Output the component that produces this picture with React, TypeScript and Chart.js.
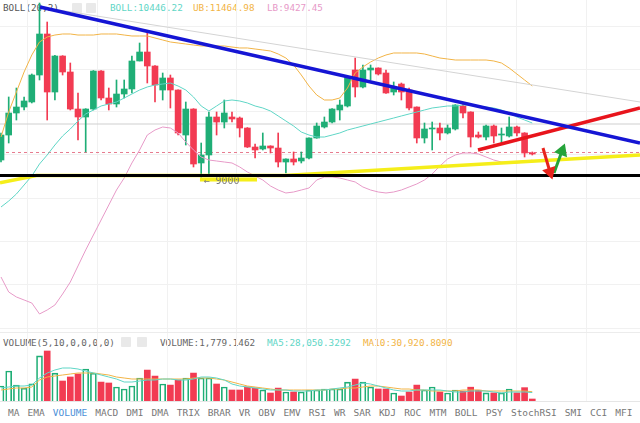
import React, { useEffect, useRef } from "react";
import { Chart, registerables } from "chart.js";

Chart.register(...registerables);

// ---------- candles (price) ----------
const OPEN = [9427, 10115, 10721, 10886, 11024, 11767, 12896, 11299, 12290, 11850, 10831, 10611, 10831, 11877, 11134, 10969, 11244, 11382, 12153, 12400, 12015, 11354, 11685, 11354, 10115, 10831, 9345, 9565, 10611, 10473, 10611, 10583, 10308, 9785, 9730, 9813, 9757, 9372, 9455, 9400, 9482, 10033, 10336, 10473, 10804, 10914, 11905, 11437, 11905, 11960, 11822, 11299, 11519, 11354, 10886, 10033, 10281, 10308, 10171, 10281, 10914, 10749, 10115, 10060, 10363, 10115, 10088, 10336, 10171, 9620];
const HIGH = [10171, 11162, 11409, 11162, 11795, 13749, 13226, 12310, 12300, 12098, 11272, 10840, 11890, 11890, 11409, 11630, 11630, 12290, 12648, 12923, 12030, 11822, 11767, 11360, 11024, 10840, 9895, 10749, 10749, 11079, 10749, 10611, 10320, 9868, 10171, 9820, 10171, 9460, 9648, 9648, 10040, 10446, 10611, 10840, 11079, 11720, 12235, 12043, 12043, 11965, 11905, 11575, 11547, 11409, 10890, 10446, 10473, 10446, 10391, 10950, 10969, 10755, 10198, 10391, 10391, 10308, 10611, 10363, 10180, 9648];
const LOW = [9372, 9895, 10528, 10804, 10997, 11630, 10528, 11079, 11767, 10804, 9978, 9648, 10804, 11079, 10804, 10886, 11134, 11272, 12153, 11547, 11024, 11079, 10859, 10115, 9840, 9235, 8959, 9014, 10115, 10308, 10473, 10060, 9770, 9482, 9703, 9620, 9235, 9069, 9290, 9345, 9455, 10025, 10308, 10446, 10528, 10886, 11162, 11409, 11630, 11767, 11260, 11217, 11079, 10804, 9895, 9895, 9703, 9978, 10143, 10253, 10583, 9785, 10033, 9978, 9895, 9895, 10060, 10088, 9510, 9565];
const CLOSE = [10115, 10721, 10886, 11052, 11767, 12896, 11299, 12290, 11850, 10831, 10611, 10831, 11877, 11134, 10969, 11244, 11382, 12153, 12400, 12015, 11492, 11685, 11354, 10171, 10831, 9317, 9565, 10611, 10473, 10721, 10556, 10308, 9785, 9703, 9813, 9757, 9372, 9455, 9372, 9482, 10033, 10363, 10473, 10831, 10941, 11712, 11437, 11905, 11960, 11795, 11272, 11437, 11299, 10859, 10033, 10281, 10308, 10171, 10308, 10941, 10721, 10060, 10060, 10363, 10088, 10143, 10336, 10171, 9620, 9593];

// ---------- Bollinger bands (20,2) ----------
const BOLL_MID = [8133, 8298, 8491, 8739, 8987, 9317, 9565, 9840, 10088, 10281, 10501, 10694, 10804, 10914, 10969, 11024, 11134, 11244, 11354, 11437, 11492, 11519, 11547, 11464, 11354, 11162, 10914, 10776, 10914, 11052, 11079, 11052, 10997, 10914, 10859, 10776, 10639, 10501, 10363, 10198, 10115, 10060, 10060, 10115, 10171, 10253, 10308, 10363, 10418, 10473, 10528, 10583, 10639, 10694, 10749, 10804, 10859, 10886, 10914, 10914, 10941, 10941, 10914, 10886, 10859, 10804, 10721, 10611, 10528, 10446.22];
const BOLL_UB = [10060, 10749, 11299, 11850, 12318, 12676, 12813, 12868, 12896, 12896, 12868, 12868, 12868, 12896, 12896, 12896, 12868, 12841, 12841, 12841, 12786, 12731, 12676, 12648, 12621, 12593, 12566, 12566, 12566, 12566, 12538, 12511, 12511, 12483, 12456, 12428, 12345, 12235, 12043, 11767, 11464, 11217, 11079, 11079, 11134, 11409, 11822, 11988, 12125, 12235, 12318, 12373, 12373, 12373, 12373, 12345, 12290, 12235, 12208, 12180, 12180, 12180, 12180, 12180, 12153, 12098, 11960, 11795, 11630, 11464.98];
const BOLL_LB = [6206, 5793, 5656, 5573, 5490, 5188, 5298, 5435, 5738, 6068, 6509, 6950, 7362, 7775, 8188, 8601, 8932, 9345, 9703, 10115, 10253, 10336, 10308, 10171, 9923, 9703, 9510, 9427, 9400, 9372, 9345, 9235, 9097, 8987, 8877, 8711, 8601, 8519, 8546, 8601, 8656, 8877, 8959, 8959, 8932, 8877, 8822, 8684, 8601, 8546, 8519, 8546, 8601, 8684, 8767, 8877, 9042, 9262, 9455, 9565, 9620, 9620, 9593, 9510, 9427, 9372, 9345, 9345, 9372, 9427.45];

// ---------- volume ----------
const VOLUME = [50000, 100000, 53000, 43000, 57000, 150000, 166500, 93000, 66600, 80000, 90000, 106600, 93000, 63000, 60000, 46600, 40000, 50000, 76600, 103000, 83000, 56600, 53000, 70000, 76600, 93000, 76600, 76600, 56600, 46600, 36600, 36600, 46600, 43000, 36600, 26600, 43000, 30000, 30000, 30000, 36600, 36600, 40000, 40000, 40000, 63000, 73000, 63000, 46600, 40000, 40000, 26600, 16600, 30000, 53000, 36600, 46600, 30000, 26600, 36600, 33000, 46000, 36000, 27000, 26956, 27000, 40000, 27000, 44472, 1779.1462];
const VOL_MA5 = [43290, 46620, 49950, 49950, 53280, 76590, 93240, 103230, 109890, 109890, 106560, 99900, 93240, 86580, 79920, 73260, 63270, 63270, 66600, 69930, 69930, 73260, 73260, 69930, 69930, 73260, 79920, 79920, 76590, 69930, 56610, 49950, 46620, 43290, 39960, 36630, 36630, 36630, 33300, 33300, 33300, 36630, 36630, 39960, 43290, 46620, 53280, 59940, 56610, 49950, 43290, 36630, 33300, 33300, 36630, 36630, 36630, 36630, 33300, 29970, 29970, 33300, 33300, 33300, 29970, 26640, 29970, 29970, 29970, 28050.3292];
const VOL_MA10 = [36630, 39960, 43290, 43290, 46620, 69930, 79920, 83250, 86580, 89910, 93240, 93240, 93240, 89910, 86580, 79920, 76590, 73260, 73260, 73260, 73260, 73260, 73260, 73260, 73260, 76590, 76590, 76590, 73260, 69930, 63270, 56610, 49950, 46620, 43290, 39960, 36630, 36630, 36630, 36630, 36630, 36630, 36630, 39960, 39960, 43290, 43290, 46620, 49950, 49950, 46620, 43290, 39960, 39960, 36630, 36630, 33300, 33300, 33300, 33300, 36630, 36630, 36630, 33300, 33300, 33300, 33300, 33300, 33300, 30920.809];

// ---------- drawn levels / trendlines (index, price) ----------
const BLUE_TREND = [{ x: 5.06, y: 13639 }, { x: 82.99, y: 9895 }];
const GRAY_TREND = [{ x: 5.06, y: 13639 }, { x: 82.99, y: 11024 }];
const RED_TREND = [{ x: 61.95, y: 9703 }, { x: 82.99, y: 10859 }];
const YELLOW_TREND = [{ x: -0.13, y: 8800 }, { x: 4.6, y: 9000 }, { x: 36.8, y: 9000 }, { x: 82.99, y: 9565 }];
const SUPPORT = 9000;
const SUPPORT_LABEL = "← 9000";
const LAST_PRICE_LINE = 9634;
const REF_LINE = 10418;
const RED_ARROW = [{ x: 70.39, y: 9758 }, { x: 71.3, y: 9097 }];
const GREEN_ARROW = [{ x: 71.82, y: 9069 }, { x: 72.86, y: 9675 }];

// axis ranges and grid ticks
const X_MIN = -0.13;
const X_MAX = 82.99;
const PRICE_MIN = 4692;
const PRICE_MAX = 13832;
const VOL_MAX = 226440;
const X_GRID = [3.38, 12.47, 21.56, 30.65, 39.74, 48.83, 57.92, 67.01, 76.1];
const PRICE_GRID = [4802, 5986, 7170, 8381, 9565, 10749, 11932, 13116];

const TABS = ["MA", "EMA", "VOLUME", "MACD", "DMI", "DMA", "TRIX", "BRAR", "VR", "OBV", "EMV", "RSI", "WR", "SAR", "KDJ", "ROC", "MTM", "BOLL", "PSY", "StochRSI", "SMI", "CCI", "MFI"];

const GREEN = "#1fae76";
const RED = "#f23b52";
const TEAL = "#5fd6c6";
const ORANGE = "#f2b446";
const PINK = "#e79ac8";
const MONO = '"DejaVu Sans Mono", monospace';

function xAxis(gridColor: string) {
  return {
    type: "linear" as const,
    min: X_MIN,
    max: X_MAX,
    offset: false,
    ticks: { display: false },
    grid: { color: gridColor, drawTicks: false, offset: false },
    border: { display: false },
    afterBuildTicks: (s: any) => {
      s.ticks = X_GRID.map((v) => ({ value: v }));
    },
  };
}

const labelPlugin = {
  id: "supportLabel",
  beforeDatasetsDraw(chart: any) {
    const { ctx, scales } = chart;
    const xs = scales.x;
    const ys = scales.y;
    const x0 = xs.getPixelForValue(25.84);
    const x1 = xs.getPixelForValue(33.25);
    const y = ys.getPixelForValue(SUPPORT);
    ctx.save();
    ctx.fillStyle = "#f5ee1a";
    ctx.fillRect(x0, y + 2, x1 - x0, 4);
    ctx.fillStyle = "#7a7a7a";
    ctx.font = "10px " + MONO;
    ctx.textBaseline = "alphabetic";
    ctx.fillText(SUPPORT_LABEL, xs.getPixelForValue(26.3), y + 8);
    ctx.restore();
  },
};

function hline(value: number, color: string, width: number, order: number, dash?: number[]) {
  return {
    type: "line" as const,
    data: [{ x: X_MIN, y: value }, { x: X_MAX, y: value }],
    borderColor: color,
    borderWidth: width,
    borderDash: dash || [],
    pointRadius: 0,
    order,
  };
}

export default function App() {
  const mainRef = useRef<HTMLCanvasElement>(null);
  const volRef = useRef<HTMLCanvasElement>(null);

  useEffect(() => {
    document.body.style.margin = "0";
    const idx = CLOSE.map((_, i) => i);
    const colors = idx.map((i) => (CLOSE[i] >= OPEN[i] ? GREEN : RED));

    const main = new Chart(mainRef.current as HTMLCanvasElement, {
      type: "bar",
      data: {
        datasets: [
          { type: "line", data: RED_ARROW, borderColor: "#e8231c", borderWidth: 3, pointRadius: [0, 5], pointStyle: "triangle", pointRotation: [0, 162], pointBackgroundColor: "#e8231c", pointBorderColor: "#e8231c", order: 0 } as any,
          { type: "line", data: GREEN_ARROW, borderColor: "#25a43a", borderWidth: 3, pointRadius: [0, 5], pointStyle: "triangle", pointRotation: [0, 21], pointBackgroundColor: "#25a43a", pointBorderColor: "#25a43a", order: 0 } as any,
          { type: "line", data: BLUE_TREND, borderColor: "#1515d4", borderWidth: 3.5, pointRadius: 0, order: 1 },
          { type: "line", data: RED_TREND, borderColor: "#e8141c", borderWidth: 3.5, pointRadius: 0, order: 1 },
          hline(SUPPORT, "#000000", 3, 2),
          { type: "line", data: YELLOW_TREND, borderColor: "#f5ee1a", borderWidth: 3.5, pointRadius: 0, order: 3 },
          { type: "line", data: GRAY_TREND, borderColor: "#d4d4d4", borderWidth: 1, pointRadius: 0, order: 4 },
          { type: "line", data: idx.map((i) => ({ x: i, y: BOLL_MID[i] })), borderColor: TEAL, borderWidth: 1, pointRadius: 0, order: 5 },
          { type: "line", data: idx.map((i) => ({ x: i, y: BOLL_UB[i] })), borderColor: ORANGE, borderWidth: 1, pointRadius: 0, order: 5 },
          { type: "line", data: idx.map((i) => ({ x: i, y: BOLL_LB[i] })), borderColor: PINK, borderWidth: 1, pointRadius: 0, order: 5 },
          { type: "bar", data: idx.map((i) => ({ x: i, y: [OPEN[i], CLOSE[i]] })), backgroundColor: colors, barThickness: 6, minBarLength: 1, grouped: false, order: 8 } as any,
          { type: "bar", data: idx.map((i) => ({ x: i, y: [LOW[i], HIGH[i]] })), backgroundColor: colors, barThickness: 1, grouped: false, order: 9 } as any,
          hline(LAST_PRICE_LINE, "#e77b8f", 1, 10, [3, 3]),
          hline(REF_LINE, "#cfcfcf", 1, 11),
        ],
      },
      options: {
        animation: false,
        responsive: false,
        maintainAspectRatio: false,
        events: [],
        layout: { padding: 0, autoPadding: false },
        plugins: { legend: { display: false }, tooltip: { enabled: false } },
        scales: {
          x: xAxis("#f1f1f1"),
          y: {
            type: "linear",
            min: PRICE_MIN,
            max: PRICE_MAX,
            ticks: { display: false },
            grid: { color: "#f1f1f1", drawTicks: false },
            border: { display: false },
            afterBuildTicks: (s: any) => {
              s.ticks = PRICE_GRID.map((v) => ({ value: v }));
            },
          },
        },
      } as any,
      plugins: [labelPlugin],
    });

    const vol = new Chart(volRef.current as HTMLCanvasElement, {
      type: "bar",
      data: {
        datasets: [
          { type: "line", data: idx.map((i) => ({ x: i, y: VOL_MA5[i] })), borderColor: TEAL, borderWidth: 1, pointRadius: 0, order: 1 },
          { type: "line", data: idx.map((i) => ({ x: i, y: VOL_MA10[i] })), borderColor: ORANGE, borderWidth: 1, pointRadius: 0, order: 1 },
          {
            type: "bar",
            data: idx.map((i) => ({ x: i, y: VOLUME[i] })),
            backgroundColor: idx.map((i) => (CLOSE[i] >= OPEN[i] ? "rgba(255,255,255,0)" : RED)),
            borderColor: colors,
            borderWidth: idx.map((i) => (CLOSE[i] >= OPEN[i] ? 1 : 0)),
            barThickness: 6,
            minBarLength: 2,
            order: 2,
          } as any,
        ],
      },
      options: {
        animation: false,
        responsive: false,
        maintainAspectRatio: false,
        events: [],
        layout: { padding: 0, autoPadding: false },
        plugins: { legend: { display: false }, tooltip: { enabled: false } },
        scales: {
          x: xAxis("#f4f4f4"),
          y: {
            type: "linear",
            min: 0,
            max: VOL_MAX,
            display: false,
          },
        },
      } as any,
    });

    return () => {
      main.destroy();
      vol.destroy();
    };
  }, []);

  const box = (left: number, top: number) => (
    <div style={{ position: "absolute", left, top, width: 10, height: 10, background: "#e9e9e9", borderRadius: 1 }} />
  );
  const txt = (left: number, top: number, s: string, color: string) => (
    <div style={{ position: "absolute", left, top, fontSize: 9.3, lineHeight: "12px", color, whiteSpace: "pre" }}>{s}</div>
  );

  return (
    <div style={{ position: "relative", width: 640, height: 423, background: "#fff", overflow: "hidden", fontFamily: MONO }}>
      {txt(3, 2, "BOLL(20,2)", "#555")}
      {box(72, 3)}
      {box(86, 3)}
      {txt(110, 2, "BOLL:10446.22", TEAL)}
      {txt(193, 2, "UB:11464.98", ORANGE)}
      {txt(267, 2, "LB:9427.45", PINK)}
      <canvas ref={mainRef} width={640} height={332} style={{ position: "absolute", left: 0, top: 0, width: 640, height: 332 }} />
      <div style={{ position: "absolute", left: 0, top: 332, width: 640, height: 1, background: "#ececec" }} />
      {txt(3, 337, "VOLUME(5,10,0,0,0,0)", "#666")}
      {box(121, 337)}
      {box(137, 337)}
      {txt(160, 337, "VOLUME:1,779.1462", "#666")}
      {txt(267, 337, "MA5:28,050.3292", TEAL)}
      {txt(363, 337, "MA10:30,920.8090", ORANGE)}
      <canvas ref={volRef} width={640} height={68} style={{ position: "absolute", left: 0, top: 333, width: 640, height: 68 }} />
      <div style={{ position: "absolute", left: 0, top: 401, width: 640, height: 1, background: "#e6e6e6" }} />
      <div style={{ position: "absolute", left: 8, top: 407, display: "flex", gap: 8.1, fontSize: 9.5, lineHeight: "12px", color: "#777", whiteSpace: "nowrap" }}>
        {TABS.map((t) => (
          <span key={t} style={{ color: t === "VOLUME" ? "#4a8fd8" : "#777" }}>{t}</span>
        ))}
      </div>
    </div>
  );
}
